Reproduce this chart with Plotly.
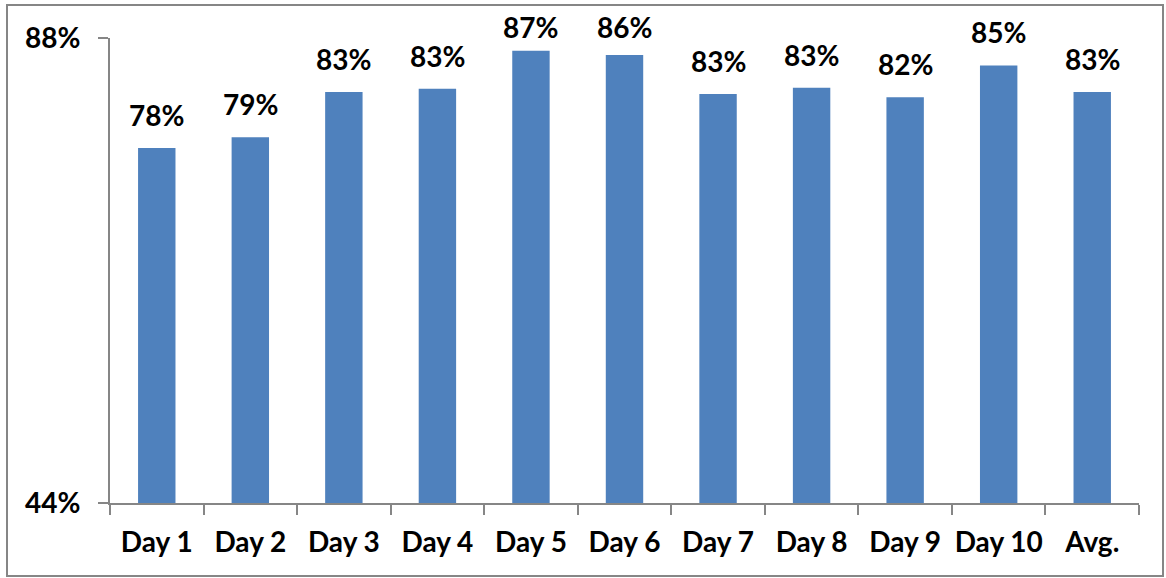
import plotly.graph_objects as go

# Daily values (percent)
days = ["Day 1", "Day 2", "Day 3", "Day 4", "Day 5", "Day 6",
        "Day 7", "Day 8", "Day 9", "Day 10", "Avg."]
values = [77.6, 78.6, 82.9, 83.2, 86.8, 86.4, 82.7, 83.3, 82.4, 85.4, 82.9]
y_ticks = [44, 88]
y_tick_text = ["44%", "88%"]

W, H = 1166, 578
M_L, M_R, M_T, M_B = 110, 27, 38, 75
plot_h = H - M_T - M_B
y_min, y_max = 44, 88
px_per_unit = plot_h / (y_max - y_min)

BAR = "#4F81BD"
AXIS = "#868686"
FONT = "Lato, Arial, sans-serif"
SIZE = 28

fig = go.Figure(
    go.Bar(
        x=days,
        y=[v - y_min for v in values],
        base=y_min,
        marker=dict(color=BAR, line=dict(width=0)),
        hoverinfo="skip",
    )
)

# value labels above each bar, kept inside the top of the chart
annotations = []
for d, v in zip(days, values):
    bar_top = M_T + (y_max - v) * px_per_unit
    text_bottom = max(bar_top - 20, 40)
    annotations.append(dict(
        x=d, y=v, xref="x", yref="y",
        text=f"<b>{round(v):.0f}%</b>",
        showarrow=False, yanchor="bottom",
        yshift=bar_top - text_bottom - 6,
        font=dict(family=FONT, size=SIZE, color="#000000"),
    ))

fig.update_layout(
    width=W, height=H,
    margin=dict(l=M_L, r=M_R, t=M_T, b=M_B, autoexpand=False),
    paper_bgcolor="white", plot_bgcolor="white",
    bargap=0.6,
    showlegend=False,
    annotations=annotations,
    shapes=[dict(
        type="rect", xref="paper", yref="paper",
        x0=(7 - M_L) / (W - M_L - M_R), x1=(1163 - M_L) / (W - M_L - M_R),
        y0=(M_T + plot_h - 576) / plot_h, y1=(M_T + plot_h - 5) / plot_h,
        line=dict(color=AXIS, width=2), fillcolor="rgba(0,0,0,0)", layer="below",
    )],
    xaxis=dict(
        showline=True, linecolor=AXIS, linewidth=2,
        ticks="outside", ticklen=10, tickcolor=AXIS, tickwidth=2,
        tickson="boundaries",
        tickmode="array", tickvals=days, ticktext=[f"<b>{d}</b>" for d in days],
        tickangle=0, automargin=False,
        tickfont=dict(family=FONT, size=SIZE, color="#000000"),
        ticklabelstandoff=13,
        showgrid=False, fixedrange=True,
    ),
    yaxis=dict(
        range=[y_min, y_max], automargin=False,
        tickvals=y_ticks, ticktext=[f"<b>{t}</b>" for t in y_tick_text],
        showline=True, linecolor=AXIS, linewidth=2,
        ticks="outside", ticklen=10, tickcolor=AXIS, tickwidth=2,
        showgrid=True, gridcolor=AXIS, gridwidth=2,
        zeroline=False,
        tickfont=dict(family=FONT, size=SIZE, color="#000000"),
        ticklabelstandoff=12,
        fixedrange=True,
    ),
)

fig.write_html("out.html")
